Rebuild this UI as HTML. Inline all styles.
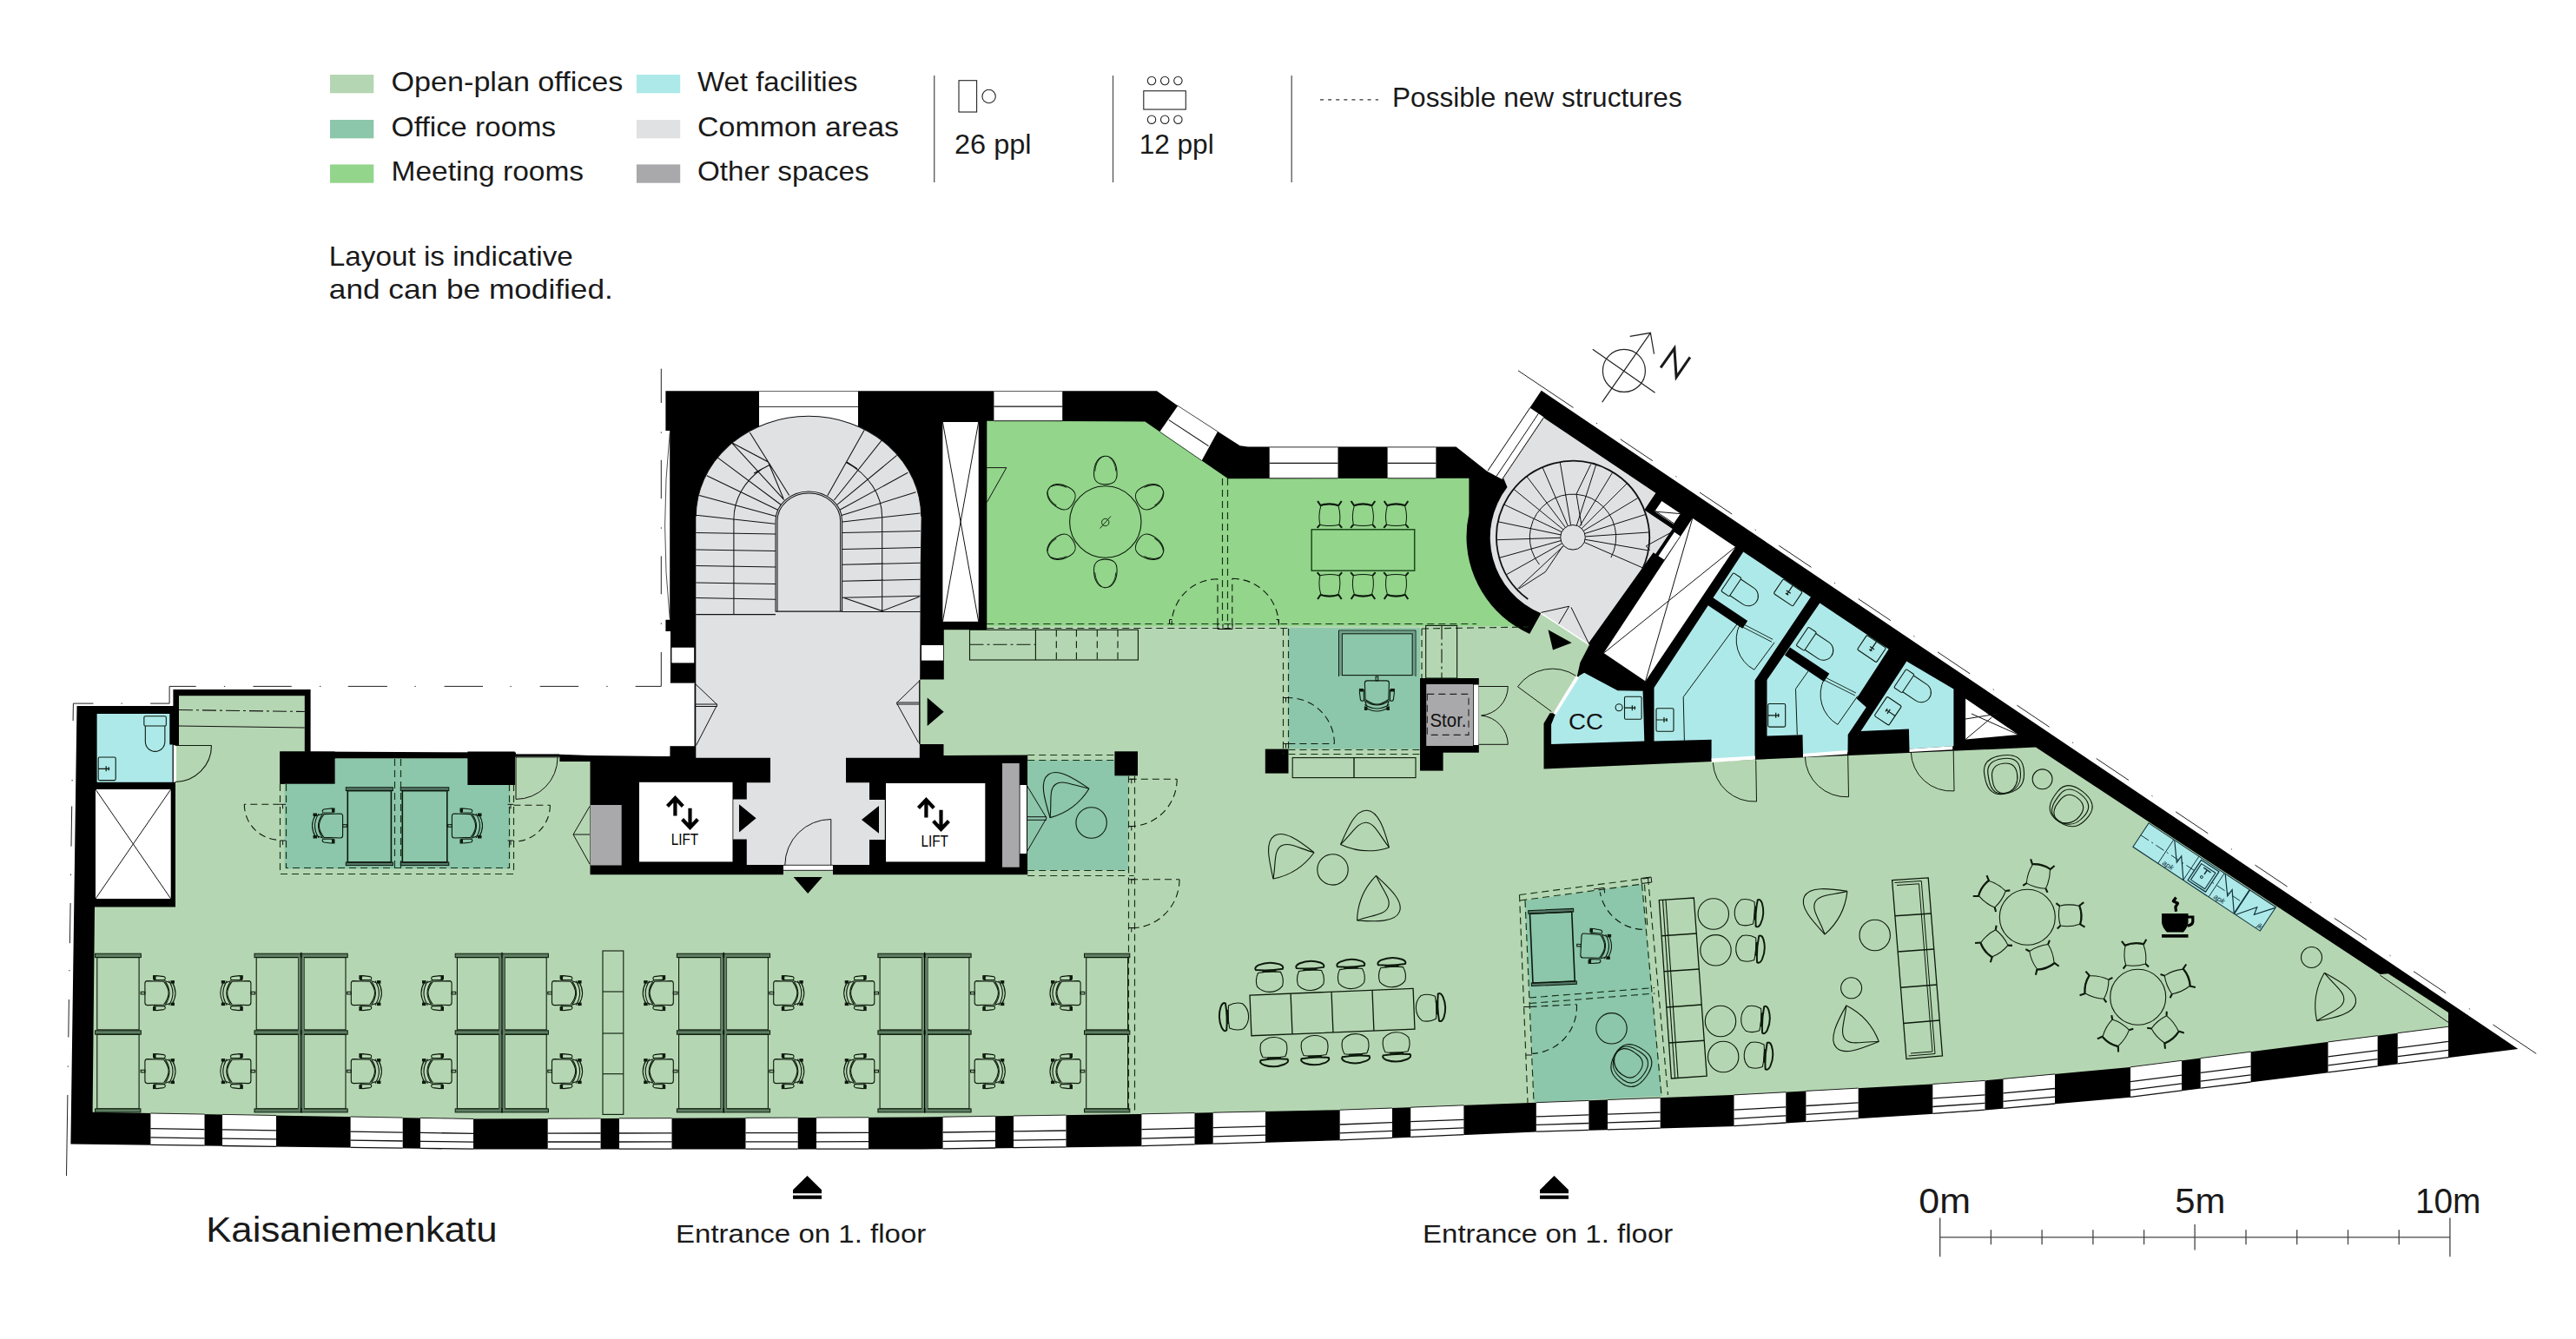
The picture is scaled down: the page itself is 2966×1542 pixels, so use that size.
<!DOCTYPE html>
<html><head><meta charset="utf-8"><style>
html,body{margin:0;padding:0;background:#fff}
body{width:2966px;height:1542px;overflow:hidden;font-family:"Liberation Sans",sans-serif}
svg{display:block}
text{font-family:"Liberation Sans",sans-serif;fill:#1a1a1a}
</style></head><body>
<svg width="2966" height="1542" viewBox="0 0 2966 1542">
<rect width="2966" height="1542" fill="#fff"/>
<polygon points="88.5,813.0 199.4,813.0 199.4,794.0 357.6,794.0 357.6,865.5 594.0,866.5 594.0,868.7 644.4,868.7 679.0,870.0 771.4,871.0 772.0,764.0 772.0,727.0 766.4,727.0 766.4,713.8 771.2,713.8 771.2,496.0 766.4,496.0 766.4,450.2 1332.0,450.2 1355.7,467.0 1427.7,513.3 1437.0,514.6 1676.5,514.6 1712.3,542.8 1774.7,449.8 2899.3,1208.0 2452.6,1263.7 2266.0,1280.2 2000.0,1296.9 1768.6,1303.5 1543.5,1313.2 1310.6,1320.2 1060.0,1323.5 545.0,1323.5 81.4,1317.6" fill="#000" />
<path d="M109.0,1044.6 L202.0,1044.6 L202.0,901.0 L206.0,901.0 L206.0,801.3 L350.8,801.3 L350.8,865.5 L322.3,865.5 L322.3,902.7 L385.6,902.7 L385.6,873.6 L538.4,873.6 L538.4,904.0 L592.8,904.0 L592.8,871.5 L644.4,871.5 L644.4,877.0 L679.5,877.0 L679.5,1007.3 L902.0,1007.3 L902.0,1002.5 L959.0,1002.5 L959.0,1007.3 L1183.2,1007.3 L1183.2,869.6 L1086.5,869.9 L1086.5,857.0 L1059.5,857.0 L1059.5,782.4 L1086.8,782.4 L1086.8,725.3 L1136.3,725.3 L1136.3,720.0 L1744.7,721 A122.5,122.5 0 0 0 1761.2,729.9 L1774.3,706.3 L1830,742.6 L1819.4,763.1 L1816,778.2 L1788,821.3 L1784.5,821.3 L1777.5,833 L1777.5,885.4 L2344,860.6 L2740.3,1122 L2749.8,1121.2 L2819,1166 L2819.0,1182.3 L2452.6,1228.9 L2266.0,1246.2 L2000.0,1260.8 L1768.6,1269.7 L1543.5,1278.2 L1310.6,1282.9 L1060.0,1286.6 L545.0,1288.5 L106.6,1280.8 Z" fill="#b5d6b2"/>
<path d="M1136.3,484.7 L1318.4,485.6 L1414,551.3 L1691.4,550.8 L1691.4,591.5 A122.5,122.5 0 0 0 1744.7,721 L1136.3,721 Z" fill="#93d58b"/>
<rect x="327.7" y="873.6" width="259.6" height="126.9" fill="#8cc6ab" />
<rect x="1183.2" y="875.5" width="115.6" height="126.5" fill="#8cc6ab" />
<rect x="1483.5" y="723.2" width="151.5" height="139.4" fill="#8cc6ab" />
<polygon points="1756.0,1037.0 1890.5,1018.0 1913.6,1262.3 1766.5,1269.5" fill="#8cc6ab" />
<rect x="874.0" y="450.2" width="114.0" height="69.8" fill="#fff" />
<path d="M801.3,872.8 L801.3,594.8 A129.7,115.5 0 0 1 1060.7,594.8 L1059.8,650 L1058.8,872.8 L974,872.8 L974,901.3 L1001,901.3 L1001,921 L1018.8,921 L1018.8,967 L1001,967 L1001,996 L959,996 L902,996 L859.8,996 L859.8,966.6 L844.3,966.6 L844.3,920.4 L859.8,920.4 L859.8,901.3 L887,901.3 L887,872.8 Z" fill="#e0e1e3"/>
<path d="M1777.7,481.3 L1906.4,567.7 L1893.3,587.2 L1925.7,608.9 L1906.2,638.0 L1903.7,636.3 L1828.5,741.5 L1774.3,706.3 A94.5,94.5 0 0 1 1735.5,561.1 L1731.1,550.6 Z" fill="#e0e1e3"/>
<polygon points="1761.4,469.6 1778.0,480.7 1730.0,552.3 1712.3,542.8" fill="#fff" />
<rect x="110.0" y="909.0" width="86.7" height="126.0" fill="#fff" />
<rect x="736.0" y="900.8" width="107.5" height="91.6" fill="#fff" />
<rect x="1020.0" y="902.0" width="114.3" height="90.4" fill="#fff" />
<rect x="1085.4" y="486.0" width="41.3" height="229.8" fill="#fff" />
<rect x="773.4" y="745.7" width="25.8" height="17.7" fill="#fff" />
<rect x="1061.0" y="743.0" width="25.0" height="17.6" fill="#fff" />
<rect x="902.0" y="996.0" width="57.0" height="6.5" fill="#fff" />
<rect x="1174.5" y="904.0" width="7.5" height="79.0" fill="#fff" />
<rect x="1696.8" y="788.5" width="5.7" height="69.5" fill="#fff" />
<polygon points="1948.8,596.7 1998.3,629.9 1894.6,784.4 1846.5,752.1" fill="#fff" />
<polygon points="1913.3,577.1 1934.9,591.6 1926.8,603.6 1905.2,589.1" fill="#fff" />
<polygon points="1927.9,612.8 1934.5,617.2 1916.1,644.6 1909.5,640.2" fill="#fff" />
<polygon points="2263.1,804.5 2263.1,851.5 2323.8,846.0" fill="#fff" />
<rect x="768.5" y="786.6" width="31.5" height="72.6" fill="#fff" />
<rect x="680.0" y="927.0" width="35.7" height="69.5" fill="#a9a9ab" />
<rect x="1154.0" y="879.0" width="19.7" height="119.7" fill="#a9a9ab" />
<rect x="111.6" y="822.0" width="87.0" height="78.8" fill="#aee9ea" />
<rect x="195.3" y="813.0" width="4.2" height="44.5" fill="#000" />
<rect x="199.4" y="858.0" width="3.6" height="42.8" fill="#fff" />
<rect x="203.0" y="858.0" width="3.5" height="43.5" fill="#b5d6b2" />
<polygon points="1790.3,823.7 1818.2,778.2 1824.1,774.7 1862.5,795.2 1891.6,795.7 1893.3,853.5 1786.1,857.0 1786.1,834.2" fill="#aee9ea" />
<polygon points="2007.3,635.4 2084.9,687.4 2020.5,783.4 2020.5,790.0 2020.5,872.5 1970.6,875.5 1970.6,851.8 1904.5,853.5 1904.5,792.0" fill="#aee9ea" />
<polygon points="1971.9,688.1 2012.2,715.1 2006.3,723.8 1966.0,696.8" fill="#000" />
<polygon points="2095.3,694.4 2174.6,747.6 2137.6,804.6 2148.8,814.5 2127.7,846.0 2127.5,866.5 2076.0,870.0 2075.5,846.2 2034.5,847.5 2034.5,783.0" fill="#aee9ea" />
<polygon points="2061.0,745.5 2106.3,775.8 2100.1,785.0 2054.9,754.6" fill="#000" />
<polygon points="2195.3,761.6 2249.4,793.4 2249.4,859.3 2198.5,862.4 2197.9,839.4 2142.6,841.9" fill="#aee9ea" />
<polygon points="1970.6,873.5 2020.9,870.4 2020.9,874.8 1970.6,877.9" fill="#fff" />
<polygon points="2076.0,868.0 2127.0,864.0 2127.0,868.6 2076.0,872.0" fill="#fff" />
<polygon points="2198.5,862.4 2248.2,859.3 2248.2,863.2 2198.5,866.0" fill="#fff" />
<polygon points="1814.8,778.2 1818.2,780.0 1791.3,823.2 1788.0,821.3" fill="#fff" />
<polygon points="2474.0,947.9 2620.4,1044.7 2602.3,1072.1 2455.9,975.3" fill="#aee9ea" stroke="#12343b" stroke-width="1.1"/>
<rect x="1283.4" y="865.3" width="26.6" height="28.0" fill="#000" />
<rect x="1456.8" y="862.6" width="26.7" height="28.0" fill="#000" />
<rect x="1635.0" y="781.0" width="67.8" height="85.7" fill="#000" />
<rect x="1635.0" y="860.0" width="26.6" height="27.6" fill="#000" />
<rect x="1642.2" y="787.9" width="53.8" height="71.1" fill="#a9a9ab" />
<rect x="1696.8" y="788.5" width="5.7" height="69.5" fill="#fff" />
<rect x="874.0" y="450.2" width="114.0" height="18.2" fill="#fff" />
<rect x="1144.4" y="450.2" width="78.8" height="34.5" fill="#fff" />
<rect x="1461.7" y="514.6" width="78.8" height="36.2" fill="#fff" />
<rect x="1597.6" y="514.6" width="55.8" height="36.2" fill="#fff" />
<polygon points="1356.2,467.2 1402.0,497.0 1383.6,530.4 1335.3,497.2" fill="#fff" />
<polygon points="173.4,1282.0 235.5,1283.1 235.5,1320.1 173.4,1319.3" fill="#fff" />
<polygon points="256.0,1283.4 318.0,1284.5 318.0,1321.1 256.0,1320.3" fill="#fff" />
<polygon points="403.6,1286.0 463.7,1287.1 463.7,1323.0 403.6,1322.2" fill="#fff" />
<polygon points="484.0,1287.4 545.0,1288.5 545.0,1324.0 484.0,1323.2" fill="#fff" />
<polygon points="630.7,1288.2 691.6,1288.0 691.6,1324.0 630.7,1324.0" fill="#fff" />
<polygon points="713.0,1287.9 773.5,1287.7 773.5,1324.0 713.0,1324.0" fill="#fff" />
<polygon points="858.5,1287.3 918.7,1287.1 918.7,1324.0 858.5,1324.0" fill="#fff" />
<polygon points="940.0,1287.0 1000.0,1286.8 1000.0,1324.0 940.0,1324.0" fill="#fff" />
<polygon points="1085.6,1286.2 1146.0,1285.3 1146.0,1322.9 1085.6,1323.7" fill="#fff" />
<polygon points="1167.0,1285.0 1227.5,1284.1 1227.5,1321.8 1167.0,1322.6" fill="#fff" />
<polygon points="1314.4,1282.8 1375.5,1281.6 1375.5,1318.7 1314.4,1320.6" fill="#fff" />
<polygon points="1396.7,1281.2 1457.0,1279.9 1457.0,1316.3 1396.7,1318.1" fill="#fff" />
<polygon points="1542.7,1278.2 1603.0,1276.0 1603.0,1311.1 1542.7,1313.7" fill="#fff" />
<polygon points="1624.2,1275.2 1685.4,1272.8 1685.4,1307.6 1624.2,1310.2" fill="#fff" />
<polygon points="1768.8,1269.7 1829.4,1267.4 1829.4,1302.3 1768.8,1304.0" fill="#fff" />
<polygon points="1851.0,1266.5 1911.7,1264.2 1911.7,1299.9 1851.0,1301.6" fill="#fff" />
<polygon points="1996.5,1260.9 2056.3,1257.7 2056.3,1293.9 1996.5,1297.5" fill="#fff" />
<polygon points="2079.4,1256.4 2139.7,1253.1 2139.7,1288.6 2079.4,1292.4" fill="#fff" />
<polygon points="2225.3,1248.4 2285.5,1244.4 2285.5,1279.0 2225.3,1283.3" fill="#fff" />
<polygon points="2306.5,1242.4 2366.0,1236.9 2366.0,1271.9 2306.5,1277.1" fill="#fff" />
<polygon points="2453.0,1228.8 2512.0,1221.3 2512.0,1256.8 2453.0,1264.2" fill="#fff" />
<polygon points="2533.7,1218.6 2591.6,1211.2 2591.6,1246.9 2533.7,1254.1" fill="#fff" />
<polygon points="2680.5,1199.9 2737.6,1192.7 2737.6,1228.7 2680.5,1235.8" fill="#fff" />
<polygon points="2760.7,1189.7 2819.0,1182.3 2819.0,1218.5 2760.7,1225.8" fill="#fff" />
<defs>
<g id="ch" stroke="#0c1a0c" stroke-width="1.1" fill="none"><path d="M-11,-14 Q-13.6,-14 -13.6,-11 L-13.6,11 Q-13.6,14 -11,14 L8,13.4 Q13.6,6 13.6,0 Q13.6,-6 8,-13.4 Z"/><path d="M10,-13 Q19,0 10,13 M14,-14 Q23,0 14,14 M17.5,-13 Q25.5,0 17.5,13"/><path d="M-3,-15.2 Q-4,-20 0,-20 L8,-19 Q11,-18 9,-15 Z M-3,15.2 Q-4,20 0,20 L8,19 Q11,18 9,15 Z"/><path d="M9,-14 L15,-12 M9,14 L15,12"/><rect x="-18.3" y="-1.3" width="4.7" height="2.6"/><g fill="#0c1a0c" stroke="none"><rect x="-4.5" y="-20.5" width="3.5" height="5"/><rect x="-4.5" y="15.5" width="3.5" height="5"/><rect x="16" y="-14.5" width="4.5" height="3.5"/><rect x="16" y="11" width="4.5" height="3.5"/></g></g>
<g id="dc" stroke="#0c1a0c" stroke-width="1.1" fill="none"><path d="M-11,-12 Q0,-15.5 11,-12 Q14.5,0 12,11.5 Q0,14.5 -12,11.5 Q-14.5,0 -11,-12 Z"/><path d="M-11,-12.8 Q0,-16.5 11,-12.8" stroke-width="2"/><path d="M-11,-12 L-15,-18 M11,-12 L15,-18 M-12,11.5 L-15.5,15.5 M12,11.5 L15.5,15.5" stroke-width="2.2"/></g>
<g id="cc" stroke="#0c1a0c" stroke-width="1.1" fill="none" stroke-width="1.3"><path d="M-13,-11 Q0,-13 13,-11 Q17,-3 14.5,5 Q9,11.5 0,11.5 Q-9,11.5 -14.5,5 Q-17,-3 -13,-11 Z"/><path d="M-15.5,-14.5 Q-17.5,-17.5 -12,-20 Q0,-24.5 12,-20 Q17.5,-17.5 15.5,-14.5 Q0,-12.5 -15.5,-14.5 Z" stroke-width="2"/><path d="M-8,-12.3 L8,-12.3" stroke-width="2"/></g>
<g id="lo" stroke="#0c1a0c" stroke-width="1.1" fill="none"><path d="M-28,0 C-20,-22 -13,-41 0,-41 C13,-41 21,-21 28,0"/><path d="M-28,0 C-15,-14 -10,-27 0,-27 C10,-27 16,-13 28,0"/><path d="M-28,0 Q0,11 28,0"/></g>
<g id="ar" stroke="#0c1a0c" stroke-width="1.1" fill="none"><g transform="scale(1.04,0.95)"><path d="M-22,-5 C-22,-19 -13,-24 0,-24 C13,-24 22,-19 22,-5 C22,8 19,18 6,21.5 C-1,23.5 -9,23 -13,20.5 C-20,16 -22,8 -22,-5 Z"/><path d="M-18,-4 C-18,-16 -11,-20 0,-20 C11,-20 18,-16 18,-4 C18,8 15,17 4,21 C-2,23 -8,22 -12,19.5 C-17,15 -18,8 -18,-4 Z"/><path d="M-14,1 C-14,-10 -8,-14 0,-14 C8,-14 14,-10 14,1 C14,10 11,17 3,21 C-3,23 -8,21 -10.5,18 C-14,13 -14,9 -14,1 Z"/></g></g>
<g id="mc" stroke="#0c1a0c" stroke-width="1.1" fill="none"><path d="M0,-16.3 C8,-16.3 13.3,-8 13.3,4 C13.3,12 10,16.3 0,16.3 C-10,16.3 -13.3,12 -13.3,4 C-13.3,-8 -8,-16.3 0,-16.3 Z"/><path d="M-4,-15.2 C-9,-12 -11.5,-6 -12,1 M4,-15.2 C9,-12 11.5,-6 12,1" stroke-width="0.9"/></g>
<g id="wc" stroke="#0c1a0c" stroke-width="1.1" fill="none"><rect x="0" y="-13" width="11.5" height="26" rx="1.5"/><path d="M11.5,-11.5 L30,-11.5 A11.5,11.5 0 0 1 30,11.5 L11.5,11.5"/></g>
<g id="sk" stroke="#0c1a0c" stroke-width="1.1" fill="none"><rect x="-10" y="-13.3" width="20" height="26.6" rx="1.5"/><path d="M-10,0 L3,0 M-1,-3 L-1,3 M2,-2 L2,2" stroke-width="1.2"/></g>
</defs>
<line x1="173.4" y1="1282.0" x2="235.5" y2="1283.1" stroke="#111" stroke-width="0.9"/>
<line x1="173.4" y1="1299.6" x2="235.5" y2="1300.6" stroke="#111" stroke-width="1.3"/>
<line x1="173.4" y1="1309.9" x2="235.5" y2="1310.8" stroke="#111" stroke-width="1.3"/>
<line x1="173.4" y1="1318.4" x2="235.5" y2="1319.2" stroke="#111" stroke-width="1.3"/>
<line x1="256.0" y1="1283.4" x2="318.0" y2="1284.5" stroke="#111" stroke-width="0.9"/>
<line x1="256.0" y1="1300.9" x2="318.0" y2="1301.8" stroke="#111" stroke-width="1.3"/>
<line x1="256.0" y1="1311.1" x2="318.0" y2="1311.9" stroke="#111" stroke-width="1.3"/>
<line x1="256.0" y1="1319.5" x2="318.0" y2="1320.3" stroke="#111" stroke-width="1.3"/>
<line x1="403.6" y1="1286.0" x2="463.7" y2="1287.1" stroke="#111" stroke-width="0.9"/>
<line x1="403.6" y1="1303.1" x2="463.7" y2="1304.1" stroke="#111" stroke-width="1.3"/>
<line x1="403.6" y1="1313.1" x2="463.7" y2="1314.0" stroke="#111" stroke-width="1.3"/>
<line x1="403.6" y1="1321.3" x2="463.7" y2="1322.1" stroke="#111" stroke-width="1.3"/>
<line x1="484.0" y1="1287.4" x2="545.0" y2="1288.5" stroke="#111" stroke-width="0.9"/>
<line x1="484.0" y1="1304.4" x2="545.0" y2="1305.3" stroke="#111" stroke-width="1.3"/>
<line x1="484.0" y1="1314.3" x2="545.0" y2="1315.1" stroke="#111" stroke-width="1.3"/>
<line x1="484.0" y1="1322.4" x2="545.0" y2="1323.2" stroke="#111" stroke-width="1.3"/>
<line x1="630.7" y1="1288.2" x2="691.6" y2="1288.0" stroke="#111" stroke-width="0.9"/>
<line x1="630.7" y1="1305.1" x2="691.6" y2="1305.0" stroke="#111" stroke-width="1.3"/>
<line x1="630.7" y1="1315.0" x2="691.6" y2="1315.0" stroke="#111" stroke-width="1.3"/>
<line x1="630.7" y1="1323.1" x2="691.6" y2="1323.1" stroke="#111" stroke-width="1.3"/>
<line x1="713.0" y1="1287.9" x2="773.5" y2="1287.7" stroke="#111" stroke-width="0.9"/>
<line x1="713.0" y1="1305.0" x2="773.5" y2="1304.9" stroke="#111" stroke-width="1.3"/>
<line x1="713.0" y1="1315.0" x2="773.5" y2="1314.9" stroke="#111" stroke-width="1.3"/>
<line x1="713.0" y1="1323.1" x2="773.5" y2="1323.1" stroke="#111" stroke-width="1.3"/>
<line x1="858.5" y1="1287.3" x2="918.7" y2="1287.1" stroke="#111" stroke-width="0.9"/>
<line x1="858.5" y1="1304.7" x2="918.7" y2="1304.6" stroke="#111" stroke-width="1.3"/>
<line x1="858.5" y1="1314.8" x2="918.7" y2="1314.8" stroke="#111" stroke-width="1.3"/>
<line x1="858.5" y1="1323.1" x2="918.7" y2="1323.1" stroke="#111" stroke-width="1.3"/>
<line x1="940.0" y1="1287.0" x2="1000.0" y2="1286.8" stroke="#111" stroke-width="0.9"/>
<line x1="940.0" y1="1304.5" x2="1000.0" y2="1304.4" stroke="#111" stroke-width="1.3"/>
<line x1="940.0" y1="1314.8" x2="1000.0" y2="1314.7" stroke="#111" stroke-width="1.3"/>
<line x1="940.0" y1="1323.1" x2="1000.0" y2="1323.1" stroke="#111" stroke-width="1.3"/>
<line x1="1085.6" y1="1286.2" x2="1146.0" y2="1285.3" stroke="#111" stroke-width="0.9"/>
<line x1="1085.6" y1="1304.0" x2="1146.0" y2="1303.1" stroke="#111" stroke-width="1.3"/>
<line x1="1085.6" y1="1314.3" x2="1146.0" y2="1313.5" stroke="#111" stroke-width="1.3"/>
<line x1="1085.6" y1="1322.8" x2="1146.0" y2="1322.0" stroke="#111" stroke-width="1.3"/>
<line x1="1167.0" y1="1285.0" x2="1227.5" y2="1284.1" stroke="#111" stroke-width="0.9"/>
<line x1="1167.0" y1="1302.8" x2="1227.5" y2="1302.0" stroke="#111" stroke-width="1.3"/>
<line x1="1167.0" y1="1313.2" x2="1227.5" y2="1312.4" stroke="#111" stroke-width="1.3"/>
<line x1="1167.0" y1="1321.7" x2="1227.5" y2="1320.9" stroke="#111" stroke-width="1.3"/>
<line x1="1314.4" y1="1282.8" x2="1375.5" y2="1281.6" stroke="#111" stroke-width="0.9"/>
<line x1="1314.4" y1="1300.7" x2="1375.5" y2="1299.2" stroke="#111" stroke-width="1.3"/>
<line x1="1314.4" y1="1311.1" x2="1375.5" y2="1309.5" stroke="#111" stroke-width="1.3"/>
<line x1="1314.4" y1="1319.7" x2="1375.5" y2="1317.9" stroke="#111" stroke-width="1.3"/>
<line x1="1396.7" y1="1281.2" x2="1457.0" y2="1279.9" stroke="#111" stroke-width="0.9"/>
<line x1="1396.7" y1="1298.7" x2="1457.0" y2="1297.2" stroke="#111" stroke-width="1.3"/>
<line x1="1396.7" y1="1308.9" x2="1457.0" y2="1307.2" stroke="#111" stroke-width="1.3"/>
<line x1="1396.7" y1="1317.2" x2="1457.0" y2="1315.4" stroke="#111" stroke-width="1.3"/>
<line x1="1542.7" y1="1278.2" x2="1603.0" y2="1276.0" stroke="#111" stroke-width="0.9"/>
<line x1="1542.7" y1="1295.0" x2="1603.0" y2="1292.6" stroke="#111" stroke-width="1.3"/>
<line x1="1542.7" y1="1304.8" x2="1603.0" y2="1302.3" stroke="#111" stroke-width="1.3"/>
<line x1="1542.7" y1="1312.9" x2="1603.0" y2="1310.3" stroke="#111" stroke-width="1.3"/>
<line x1="1624.2" y1="1275.2" x2="1685.4" y2="1272.8" stroke="#111" stroke-width="0.9"/>
<line x1="1624.2" y1="1291.7" x2="1685.4" y2="1289.3" stroke="#111" stroke-width="1.3"/>
<line x1="1624.2" y1="1301.4" x2="1685.4" y2="1298.9" stroke="#111" stroke-width="1.3"/>
<line x1="1624.2" y1="1309.4" x2="1685.4" y2="1306.7" stroke="#111" stroke-width="1.3"/>
<line x1="1768.8" y1="1269.7" x2="1829.4" y2="1267.4" stroke="#111" stroke-width="0.9"/>
<line x1="1768.8" y1="1285.9" x2="1829.4" y2="1283.9" stroke="#111" stroke-width="1.3"/>
<line x1="1768.8" y1="1295.4" x2="1829.4" y2="1293.5" stroke="#111" stroke-width="1.3"/>
<line x1="1768.8" y1="1303.2" x2="1829.4" y2="1301.4" stroke="#111" stroke-width="1.3"/>
<line x1="1851.0" y1="1266.5" x2="1911.7" y2="1264.2" stroke="#111" stroke-width="0.9"/>
<line x1="1851.0" y1="1283.1" x2="1911.7" y2="1281.1" stroke="#111" stroke-width="1.3"/>
<line x1="1851.0" y1="1292.8" x2="1911.7" y2="1291.0" stroke="#111" stroke-width="1.3"/>
<line x1="1851.0" y1="1300.8" x2="1911.7" y2="1299.1" stroke="#111" stroke-width="1.3"/>
<line x1="1996.5" y1="1260.9" x2="2056.3" y2="1257.7" stroke="#111" stroke-width="0.9"/>
<line x1="1996.5" y1="1278.2" x2="2056.3" y2="1274.8" stroke="#111" stroke-width="1.3"/>
<line x1="1996.5" y1="1288.3" x2="2056.3" y2="1284.8" stroke="#111" stroke-width="1.3"/>
<line x1="1996.5" y1="1296.6" x2="2056.3" y2="1293.0" stroke="#111" stroke-width="1.3"/>
<line x1="2079.4" y1="1256.4" x2="2139.7" y2="1253.1" stroke="#111" stroke-width="0.9"/>
<line x1="2079.4" y1="1273.5" x2="2139.7" y2="1269.9" stroke="#111" stroke-width="1.3"/>
<line x1="2079.4" y1="1283.4" x2="2139.7" y2="1279.7" stroke="#111" stroke-width="1.3"/>
<line x1="2079.4" y1="1291.6" x2="2139.7" y2="1287.8" stroke="#111" stroke-width="1.3"/>
<line x1="2225.3" y1="1248.4" x2="2285.5" y2="1244.4" stroke="#111" stroke-width="0.9"/>
<line x1="2225.3" y1="1264.9" x2="2285.5" y2="1260.8" stroke="#111" stroke-width="1.3"/>
<line x1="2225.3" y1="1274.5" x2="2285.5" y2="1270.3" stroke="#111" stroke-width="1.3"/>
<line x1="2225.3" y1="1282.4" x2="2285.5" y2="1278.1" stroke="#111" stroke-width="1.3"/>
<line x1="2306.5" y1="1242.4" x2="2366.0" y2="1236.9" stroke="#111" stroke-width="0.9"/>
<line x1="2306.5" y1="1258.8" x2="2366.0" y2="1253.5" stroke="#111" stroke-width="1.3"/>
<line x1="2306.5" y1="1268.4" x2="2366.0" y2="1263.1" stroke="#111" stroke-width="1.3"/>
<line x1="2306.5" y1="1276.3" x2="2366.0" y2="1271.0" stroke="#111" stroke-width="1.3"/>
<line x1="2453.0" y1="1228.8" x2="2512.0" y2="1221.3" stroke="#111" stroke-width="0.9"/>
<line x1="2453.0" y1="1245.6" x2="2512.0" y2="1238.1" stroke="#111" stroke-width="1.3"/>
<line x1="2453.0" y1="1255.3" x2="2512.0" y2="1247.9" stroke="#111" stroke-width="1.3"/>
<line x1="2453.0" y1="1263.3" x2="2512.0" y2="1255.9" stroke="#111" stroke-width="1.3"/>
<line x1="2533.7" y1="1218.6" x2="2591.6" y2="1211.2" stroke="#111" stroke-width="0.9"/>
<line x1="2533.7" y1="1235.4" x2="2591.6" y2="1228.1" stroke="#111" stroke-width="1.3"/>
<line x1="2533.7" y1="1245.2" x2="2591.6" y2="1237.9" stroke="#111" stroke-width="1.3"/>
<line x1="2533.7" y1="1253.2" x2="2591.6" y2="1246.0" stroke="#111" stroke-width="1.3"/>
<line x1="2680.5" y1="1199.9" x2="2737.6" y2="1192.7" stroke="#111" stroke-width="0.9"/>
<line x1="2680.5" y1="1216.9" x2="2737.6" y2="1209.7" stroke="#111" stroke-width="1.3"/>
<line x1="2680.5" y1="1226.8" x2="2737.6" y2="1219.6" stroke="#111" stroke-width="1.3"/>
<line x1="2680.5" y1="1234.9" x2="2737.6" y2="1227.8" stroke="#111" stroke-width="1.3"/>
<line x1="2760.7" y1="1189.7" x2="2819.0" y2="1182.3" stroke="#111" stroke-width="0.9"/>
<line x1="2760.7" y1="1206.8" x2="2819.0" y2="1199.4" stroke="#111" stroke-width="1.3"/>
<line x1="2760.7" y1="1216.7" x2="2819.0" y2="1209.4" stroke="#111" stroke-width="1.3"/>
<line x1="2760.7" y1="1224.9" x2="2819.0" y2="1217.7" stroke="#111" stroke-width="1.3"/>
<line x1="874.0" y1="450.6" x2="988.0" y2="450.6" stroke="#333" stroke-width="0.8"/>
<line x1="874.0" y1="468.4" x2="988.0" y2="468.4" stroke="#111" stroke-width="0.9"/>
<line x1="1144.4" y1="450.6" x2="1223.2" y2="450.6" stroke="#333" stroke-width="0.8"/>
<line x1="1144.4" y1="468.1" x2="1223.2" y2="468.1" stroke="#111" stroke-width="1.1"/>
<line x1="1144.4" y1="484.7" x2="1223.2" y2="484.7" stroke="#111" stroke-width="0.9"/>
<line x1="1461.7" y1="515.0" x2="1540.5" y2="515.0" stroke="#333" stroke-width="0.8"/>
<line x1="1461.7" y1="533.4" x2="1540.5" y2="533.4" stroke="#111" stroke-width="1.1"/>
<line x1="1461.7" y1="550.8" x2="1540.5" y2="550.8" stroke="#111" stroke-width="0.9"/>
<line x1="1597.6" y1="515.0" x2="1653.4" y2="515.0" stroke="#333" stroke-width="0.8"/>
<line x1="1597.6" y1="533.4" x2="1653.4" y2="533.4" stroke="#111" stroke-width="1.1"/>
<line x1="1597.6" y1="550.8" x2="1653.4" y2="550.8" stroke="#111" stroke-width="0.9"/>
<line x1="1355.7" y1="467.0" x2="1402.0" y2="497.0" stroke="#333" stroke-width="0.8"/>
<line x1="1345.8" y1="483.6" x2="1391.5" y2="513.6" stroke="#111" stroke-width="1.1"/>
<line x1="1335.3" y1="497.2" x2="1383.6" y2="530.4" stroke="#1a3a1a" stroke-width="0.9"/>
<line x1="1761.7" y1="469.7" x2="1713.1" y2="542.1" stroke="#111" stroke-width="1"/>
<line x1="1771.4" y1="476.2" x2="1722.8" y2="548.7" stroke="#111" stroke-width="1"/>
<line x1="1777.6" y1="480.4" x2="1729.0" y2="552.8" stroke="#111" stroke-width="1"/>
<line x1="110.0" y1="909.0" x2="196.7" y2="1035.0" stroke="#111" stroke-width="1"/>
<line x1="196.7" y1="909.0" x2="110.0" y2="1035.0" stroke="#111" stroke-width="1"/>
<line x1="1085.4" y1="486.0" x2="1126.7" y2="715.8" stroke="#111" stroke-width="1"/>
<line x1="1126.7" y1="486.0" x2="1085.4" y2="715.8" stroke="#111" stroke-width="1"/>
<line x1="1948.8" y1="596.7" x2="1894.6" y2="784.4" stroke="#111" stroke-width="1"/>
<line x1="1998.3" y1="629.9" x2="1846.5" y2="752.1" stroke="#111" stroke-width="1"/>
<line x1="1905.2" y1="589.1" x2="1934.9" y2="591.6" stroke="#111" stroke-width="1"/>
<line x1="1905.7" y1="588.3" x2="1927.3" y2="602.8" stroke="#111" stroke-width="1"/>
<line x1="2263.1" y1="828.0" x2="2300.0" y2="822.0" stroke="#111" stroke-width="1"/>
<line x1="2263.1" y1="851.5" x2="2293.5" y2="826.0" stroke="#111" stroke-width="1"/>
<line x1="2270.0" y1="822.0" x2="2323.8" y2="846.0" stroke="#111" stroke-width="1"/>
<path d="M801.3,594.8 A129.7,115.5 0 0 1 1060.7,594.8 M893,704 L893,600 A38.3,34 0 0 1 969.6,600 L969.6,704 Z M895,704 L895,600 A36.3,32 0 0 1 967.6,600 L967.6,704 M801.3,707.6 L893,707.6 M969.6,704.5 L1059.8,704.5 M893,704.3 L969.6,704.3 M844.9,707.6 L844.9,598 A85.4,74 0 0 1 877.7,539.7 M974.3,532.6 A85.4,74 0 0 1 1015.7,596 L1015.7,703 M801.4,593.2 L892.2,603.3 M805.2,570.4 L893.3,594.5 M813.8,547.7 L895.6,587.2 M826.5,527.2 L898.8,581.0 M842.5,509.8 L902.8,575.6 M861.9,495.8 L908.7,570.5 M1059.6,590.9 L969.9,601.0 M1054.5,566.8 L969.0,593.5 M1045.3,544.3 L967.3,587.0 M1032.6,524.4 L964.3,580.8 M1015.2,507.0 L960.4,576.0 M996.0,493.8 L952.8,570.7 M801.3,613.4 L893,615.0 M801.3,632.9 L893,634.5 M801.3,651.4 L893,653.0 M801.3,671.0 L893,672.6 M801.3,688.6 L893,690.2 M969.6,613.5 L1059.8,611.5 M969.6,632.5 L1059.8,630.5 M969.6,650.2 L1059.8,648.2 M969.6,669.2 L1059.8,667.2 M969.6,688.3 L1059.8,686.3 M842.5,509.8 L884.5,532 L902,574 M886,535.5 L868,545 M974.6,531.8 L987,539.6 M971.8,688.6 L1015.7,703.6 L1058.4,687.3" stroke="#111" stroke-width="1.05" fill="none"/>
<path d="M1759.3,690.0 A88,88 0 1 1 1890.8,656.0" stroke="#111" stroke-width="1.8" fill="none"/>
<path d="M1772.4,650.1 A49.7,49.7 0 1 1 1854.9,642.1 M1800.5,628.6 L1747.0,678.5 M1798.5,625.8 L1734.7,661.6 M1797.2,622.6 L1726.7,642.3 M1796.7,619.3 L1723.5,621.7 M1797.0,615.9 L1725.3,600.9 M1798.1,612.6 L1732.0,581.1 M1799.9,609.8 L1743.2,563.5 M1802.4,607.4 L1758.2,549.0 M1805.3,605.7 L1776.2,538.5 M1808.6,604.7 L1796.3,532.6 M1815.3,605.2 L1837.6,535.4 M1818.5,606.6 L1856.6,544.1 M1821.1,608.7 L1873.0,557.0 M1823.2,611.4 L1885.8,573.5 M1824.6,614.5 L1894.5,592.5 M1825.3,617.9 L1898.3,613.0 M1825.1,621.3 L1897.2,633.8 M1824.1,624.5 L1891.2,653.8" stroke="#111" stroke-width="1" fill="none"/>
<circle cx="1811.0" cy="618.8" r="14.3" stroke="#111" stroke-width="1" fill="#e0e1e3"/>
<path d="M1831.8,534.4 L1815,569 L1821,605 M1799.5,628.8 L1779.2,658.7 L1749,678" stroke="#111" stroke-width="1" fill="none"/>
<line x1="1774.3" y1="706.3" x2="1830.0" y2="742.6" stroke="#fff" stroke-width="1.5"/>
<path d="M1774.5,705.4 L1806.7,698.2 L1794.7,718.5 M1809,699.4 L1830.6,743.6" stroke="#111" stroke-width="1" fill="none"/>
<path d="M1926.2,612 L1895.2,628.9 L1900,633.6" stroke="#111" stroke-width="1" fill="none"/>
<polygon points="1782.5,725.3 1809.7,740.3 1788.0,748.4" fill="#000" />
<path d="M800,787 L825.8,811.5 L801.5,858.5 M800,811 L825.8,811 M800,813.5 L825.8,813.5 M800,787 L800,859" stroke="#111" stroke-width="1" fill="none"/>
<path d="M1058.2,784.5 L1032.4,809.5 L1057.4,855 M1032.4,809 L1058.2,809 M1032.4,811 L1058.2,811 M1058.6,783 L1058.6,857" stroke="#111" stroke-width="1" fill="none"/>
<polygon points="1067.7,803.5 1086.7,819.7 1067.7,836.0" fill="#000" />
<polygon points="851.0,926.3 870.6,942.3 851.0,958.4" fill="#000" />
<polygon points="1012.0,928.0 992.0,944.0 1012.0,959.8" fill="#000" />
<polygon points="913.6,1010.0 946.8,1010.0 930.2,1029.0" fill="#000" />
<path d="M956.8,996 L956.8,943.5 A53,53 0 0 0 903.8,996.5" stroke="#111" stroke-width="1" fill="none"/>
<line x1="902.0" y1="996.3" x2="959.0" y2="996.3" stroke="#111" stroke-width="0.9"/>
<line x1="902.0" y1="1002.3" x2="959.0" y2="1002.3" stroke="#111" stroke-width="0.9"/>
<path d="M777.4,939.4 L777.4,920.0 M768.5,928.5 L777.4,919.0 L786.3,928.5 M794.5,930.7 L794.5,952.0 M785.6,943.5 L794.5,953.0 L803.4,943.5" stroke="#000" stroke-width="4.2" fill="none" stroke-linejoin="miter"/>
<path d="M1066.4,941.4 L1066.4,922.0 M1057.5,930.5 L1066.4,921.0 L1075.3,930.5 M1083.5,932.7 L1083.5,954.0 M1074.6,945.5 L1083.5,955.0 L1092.4,945.5" stroke="#000" stroke-width="4.2" fill="none" stroke-linejoin="miter"/>
<text x="788.4" y="973.4" font-size="19" text-anchor="middle" textLength="31.5" lengthAdjust="spacingAndGlyphs" style="fill:#000">LIFT</text>
<text x="1076.2" y="975.3" font-size="19" text-anchor="middle" textLength="31.5" lengthAdjust="spacingAndGlyphs" style="fill:#000">LIFT</text>
<path d="M679,928.5 L660,961 L679,995 M660,961 L679,961" stroke="#111" stroke-width="1" fill="none"/>
<path d="M1182,904 L1205,942 L1182,981.5 M1182,940.7 L1205,940.7 M1182,944.3 L1205,944.3" stroke="#111" stroke-width="1" fill="none"/>
<use href="#wc" transform="translate(178.6,824.7) rotate(90.0) scale(0.980)"/>
<use href="#sk" transform="translate(123.2,885.3)"/>
<path d="M201.5,858.5 L243.5,858.5 M243.5,858.5 A42.0,42.0 0 0 1 201.5,900.5" stroke="#0c1a0c" stroke-width="1.1" fill="none" />
<line x1="199.4" y1="858.0" x2="199.4" y2="900.8" stroke="#111" stroke-width="0.8"/>
<line x1="206.0" y1="836.0" x2="350.8" y2="838.0" stroke="#111" stroke-width="1"/>
<line x1="206.0" y1="817.5" x2="350.8" y2="819.5" stroke="#111" stroke-width="1.1" stroke-dasharray="16 4 3 4"/>
<path d="M594,868.7 L594,920.4 M594,920.4 A48,48 0 0 0 642,872" stroke="#111" stroke-width="1" fill="none"/>
<line x1="594.0" y1="868.9" x2="644.0" y2="868.9" stroke="#111" stroke-width="0.8"/>
<line x1="594.0" y1="872.0" x2="644.0" y2="872.0" stroke="#111" stroke-width="0.8"/>
<path d="M322.5,903 L322.5,1006.5 L591.5,1006.5 L591.5,904 M329.5,903 L329.5,999.5 L586.5,999.5 L586.5,904 M454.5,874 L454.5,999 M461.5,874 L461.5,999" stroke="#143214" stroke-width="1.15" fill="none" stroke-dasharray="8 5"/>
<path d="M322.3,926.3 L281.3,926.3 M281.3,926.3 A41.0,41.0 0 0 0 322.3,967.3" stroke="#0c1a0c" stroke-width="1.1" fill="none" stroke-dasharray="8 5"/>
<path d="M591.4,927.2 L633.4,927.2 M633.4,927.2 A42.0,42.0 0 0 1 591.4,969.2" stroke="#0c1a0c" stroke-width="1.1" fill="none" stroke-dasharray="8 5"/>
<path d="M322.3,926.3 l6.7,0 M325.6,926.3 l0,5" stroke="#111" stroke-width="1" fill="none"/>
<path d="M584.6,926.3 l6.8,0 M588,926.3 l0,5" stroke="#111" stroke-width="1" fill="none"/>
<path d="M322.3,968.0 l6.7,0 M325.6,968.0 l0,5" stroke="#111" stroke-width="1" fill="none"/>
<path d="M584.6,968.0 l6.8,0 M588,968.0 l0,5" stroke="#111" stroke-width="1" fill="none"/>
<rect x="398.3" y="906.8" width="54.1" height="3.8" fill="#55786a" stroke="#0c1a0c" stroke-width="1"/>
<rect x="398.3" y="993.0" width="54.1" height="3.6" fill="#55786a" stroke="#0c1a0c" stroke-width="1"/>
<rect x="400.3" y="910.6" width="50.1" height="82.4" fill="none" stroke="#0c1a0c" stroke-width="1.6"/>
<rect x="461.3" y="906.8" width="55.5" height="3.8" fill="#55786a" stroke="#0c1a0c" stroke-width="1"/>
<rect x="461.3" y="993.0" width="55.5" height="3.6" fill="#55786a" stroke="#0c1a0c" stroke-width="1"/>
<rect x="463.3" y="910.6" width="51.5" height="82.4" fill="none" stroke="#0c1a0c" stroke-width="1.6"/>
<use href="#ch" transform="translate(381.0,951.0) rotate(180.0)"/>
<use href="#ch" transform="translate(534.0,951.0)"/>
<rect x="322.3" y="865.5" width="63.3" height="37.2" fill="#000" />
<rect x="538.4" y="865.5" width="54.4" height="38.5" fill="#000" />
<rect x="109.6" y="1098.2" width="52.7" height="4.4" fill="#5e7f62" stroke="#0c1a0c" stroke-width="1"/>
<rect x="111.8" y="1102.6" width="48.3" height="83.3" fill="none" stroke="#0c1a0c" stroke-width="1.1"/>
<rect x="109.6" y="1186.8" width="52.7" height="4.4" fill="#5e7f62" stroke="#0c1a0c" stroke-width="1"/>
<rect x="111.8" y="1191.2" width="48.3" height="85.7" fill="none" stroke="#0c1a0c" stroke-width="1.1"/>
<rect x="109.6" y="1276.9" width="52.3" height="4.0" fill="#5e7f62" stroke="#0c1a0c" stroke-width="1"/>
<rect x="293.0" y="1098.2" width="52.7" height="4.4" fill="#5e7f62" stroke="#0c1a0c" stroke-width="1"/>
<rect x="295.2" y="1102.6" width="48.3" height="83.3" fill="none" stroke="#0c1a0c" stroke-width="1.1"/>
<rect x="347.9" y="1098.2" width="52.3" height="4.4" fill="#5e7f62" stroke="#0c1a0c" stroke-width="1"/>
<rect x="350.1" y="1102.6" width="47.9" height="83.3" fill="none" stroke="#0c1a0c" stroke-width="1.1"/>
<rect x="293.0" y="1186.8" width="52.7" height="4.4" fill="#5e7f62" stroke="#0c1a0c" stroke-width="1"/>
<rect x="295.2" y="1191.2" width="48.3" height="85.7" fill="none" stroke="#0c1a0c" stroke-width="1.1"/>
<rect x="347.9" y="1186.8" width="52.3" height="4.4" fill="#5e7f62" stroke="#0c1a0c" stroke-width="1"/>
<rect x="350.1" y="1191.2" width="47.9" height="85.7" fill="none" stroke="#0c1a0c" stroke-width="1.1"/>
<rect x="293.0" y="1276.9" width="107.2" height="4.0" fill="#5e7f62" stroke="#0c1a0c" stroke-width="1"/>
<rect x="343.5" y="1099.2" width="2.3" height="180.2" fill="#5e7f62" stroke="none"/>
<rect x="347.8" y="1099.2" width="2.3" height="180.2" fill="#5e7f62" stroke="none"/>
<line x1="346.8" y1="1096.7" x2="346.8" y2="1281.4" stroke="#000" stroke-width="1.4"/>
<rect x="524.2" y="1098.2" width="52.7" height="4.4" fill="#5e7f62" stroke="#0c1a0c" stroke-width="1"/>
<rect x="526.4" y="1102.6" width="48.3" height="83.3" fill="none" stroke="#0c1a0c" stroke-width="1.1"/>
<rect x="579.1" y="1098.2" width="52.3" height="4.4" fill="#5e7f62" stroke="#0c1a0c" stroke-width="1"/>
<rect x="581.3" y="1102.6" width="47.9" height="83.3" fill="none" stroke="#0c1a0c" stroke-width="1.1"/>
<rect x="524.2" y="1186.8" width="52.7" height="4.4" fill="#5e7f62" stroke="#0c1a0c" stroke-width="1"/>
<rect x="526.4" y="1191.2" width="48.3" height="85.7" fill="none" stroke="#0c1a0c" stroke-width="1.1"/>
<rect x="579.1" y="1186.8" width="52.3" height="4.4" fill="#5e7f62" stroke="#0c1a0c" stroke-width="1"/>
<rect x="581.3" y="1191.2" width="47.9" height="85.7" fill="none" stroke="#0c1a0c" stroke-width="1.1"/>
<rect x="524.2" y="1276.9" width="107.2" height="4.0" fill="#5e7f62" stroke="#0c1a0c" stroke-width="1"/>
<rect x="574.7" y="1099.2" width="2.3" height="180.2" fill="#5e7f62" stroke="none"/>
<rect x="579.0" y="1099.2" width="2.3" height="180.2" fill="#5e7f62" stroke="none"/>
<line x1="578.0" y1="1096.7" x2="578.0" y2="1281.4" stroke="#000" stroke-width="1.4"/>
<rect x="779.4" y="1098.2" width="52.7" height="4.4" fill="#5e7f62" stroke="#0c1a0c" stroke-width="1"/>
<rect x="781.6" y="1102.6" width="48.3" height="83.3" fill="none" stroke="#0c1a0c" stroke-width="1.1"/>
<rect x="834.3" y="1098.2" width="52.3" height="4.4" fill="#5e7f62" stroke="#0c1a0c" stroke-width="1"/>
<rect x="836.5" y="1102.6" width="47.9" height="83.3" fill="none" stroke="#0c1a0c" stroke-width="1.1"/>
<rect x="779.4" y="1186.8" width="52.7" height="4.4" fill="#5e7f62" stroke="#0c1a0c" stroke-width="1"/>
<rect x="781.6" y="1191.2" width="48.3" height="85.7" fill="none" stroke="#0c1a0c" stroke-width="1.1"/>
<rect x="834.3" y="1186.8" width="52.3" height="4.4" fill="#5e7f62" stroke="#0c1a0c" stroke-width="1"/>
<rect x="836.5" y="1191.2" width="47.9" height="85.7" fill="none" stroke="#0c1a0c" stroke-width="1.1"/>
<rect x="779.4" y="1276.9" width="107.2" height="4.0" fill="#5e7f62" stroke="#0c1a0c" stroke-width="1"/>
<rect x="829.9" y="1099.2" width="2.3" height="180.2" fill="#5e7f62" stroke="none"/>
<rect x="834.2" y="1099.2" width="2.3" height="180.2" fill="#5e7f62" stroke="none"/>
<line x1="833.2" y1="1096.7" x2="833.2" y2="1281.4" stroke="#000" stroke-width="1.4"/>
<rect x="1010.9" y="1098.2" width="52.7" height="4.4" fill="#5e7f62" stroke="#0c1a0c" stroke-width="1"/>
<rect x="1013.1" y="1102.6" width="48.3" height="83.3" fill="none" stroke="#0c1a0c" stroke-width="1.1"/>
<rect x="1065.8" y="1098.2" width="52.3" height="4.4" fill="#5e7f62" stroke="#0c1a0c" stroke-width="1"/>
<rect x="1068.0" y="1102.6" width="47.9" height="83.3" fill="none" stroke="#0c1a0c" stroke-width="1.1"/>
<rect x="1010.9" y="1186.8" width="52.7" height="4.4" fill="#5e7f62" stroke="#0c1a0c" stroke-width="1"/>
<rect x="1013.1" y="1191.2" width="48.3" height="85.7" fill="none" stroke="#0c1a0c" stroke-width="1.1"/>
<rect x="1065.8" y="1186.8" width="52.3" height="4.4" fill="#5e7f62" stroke="#0c1a0c" stroke-width="1"/>
<rect x="1068.0" y="1191.2" width="47.9" height="85.7" fill="none" stroke="#0c1a0c" stroke-width="1.1"/>
<rect x="1010.9" y="1276.9" width="107.2" height="4.0" fill="#5e7f62" stroke="#0c1a0c" stroke-width="1"/>
<rect x="1061.4" y="1099.2" width="2.3" height="180.2" fill="#5e7f62" stroke="none"/>
<rect x="1065.7" y="1099.2" width="2.3" height="180.2" fill="#5e7f62" stroke="none"/>
<line x1="1064.7" y1="1096.7" x2="1064.7" y2="1281.4" stroke="#000" stroke-width="1.4"/>
<rect x="1248.5" y="1098.2" width="52.3" height="4.4" fill="#5e7f62" stroke="#0c1a0c" stroke-width="1"/>
<rect x="1250.7" y="1102.6" width="47.9" height="83.3" fill="none" stroke="#0c1a0c" stroke-width="1.1"/>
<rect x="1248.5" y="1186.8" width="52.3" height="4.4" fill="#5e7f62" stroke="#0c1a0c" stroke-width="1"/>
<rect x="1250.7" y="1191.2" width="47.9" height="85.7" fill="none" stroke="#0c1a0c" stroke-width="1.1"/>
<rect x="1248.5" y="1276.9" width="52.3" height="4.0" fill="#5e7f62" stroke="#0c1a0c" stroke-width="1"/>
<use href="#ch" transform="translate(180.5,1143.6)"/>
<use href="#ch" transform="translate(275.3,1143.6) rotate(180.0)"/>
<use href="#ch" transform="translate(417.9,1143.6)"/>
<use href="#ch" transform="translate(506.5,1143.6) rotate(180.0)"/>
<use href="#ch" transform="translate(649.1,1143.6)"/>
<use href="#ch" transform="translate(761.7,1143.6) rotate(180.0)"/>
<use href="#ch" transform="translate(904.3,1143.6)"/>
<use href="#ch" transform="translate(993.2,1143.6) rotate(180.0)"/>
<use href="#ch" transform="translate(1135.8,1143.6)"/>
<use href="#ch" transform="translate(1230.5,1143.6) rotate(180.0)"/>
<use href="#ch" transform="translate(180.5,1233.6)"/>
<use href="#ch" transform="translate(275.3,1233.6) rotate(180.0)"/>
<use href="#ch" transform="translate(417.9,1233.6)"/>
<use href="#ch" transform="translate(506.5,1233.6) rotate(180.0)"/>
<use href="#ch" transform="translate(649.1,1233.6)"/>
<use href="#ch" transform="translate(761.7,1233.6) rotate(180.0)"/>
<use href="#ch" transform="translate(904.3,1233.6)"/>
<use href="#ch" transform="translate(993.2,1233.6) rotate(180.0)"/>
<use href="#ch" transform="translate(1135.8,1233.6)"/>
<use href="#ch" transform="translate(1230.5,1233.6) rotate(180.0)"/>
<rect x="694.0" y="1095.0" width="23.8" height="188.4" fill="none" stroke="#0c1a0c" stroke-width="1.1"/>
<line x1="694.0" y1="1142.0" x2="717.8" y2="1142.0" stroke="#0c1a0c" stroke-width="1.1"/>
<line x1="694.0" y1="1190.0" x2="717.8" y2="1190.0" stroke="#0c1a0c" stroke-width="1.1"/>
<line x1="694.0" y1="1236.7" x2="717.8" y2="1236.7" stroke="#0c1a0c" stroke-width="1.1"/>
<path d="M1183.2,869.5 L1283.4,869.5 M1183.2,875.5 L1283.4,875.5 M1183.2,1002.5 L1299,1002.5 M1183.2,1008.5 L1305.6,1008.5 M1299.5,893.5 L1299.5,1281 M1306.5,893.5 L1306.5,1281" stroke="#143214" stroke-width="1.15" fill="none" stroke-dasharray="8 5"/>
<use href="#lo" transform="translate(1231.5,924.9) rotate(-36.7)"/>
<circle cx="1256.6" cy="947.5" r="17.7" stroke="#0c1a0c" stroke-width="1.1" fill="none"/>
<path d="M1300.8,897.3 L1355.2,897.3 M1355.2,897.3 A54.4,54.4 0 0 1 1300.8,951.7" stroke="#0c1a0c" stroke-width="1.1" fill="none" stroke-dasharray="8 5"/>
<path d="M1302.0,1012.8 L1358.0,1012.8 M1358.0,1012.8 A56.0,56.0 0 0 1 1302.0,1068.8" stroke="#0c1a0c" stroke-width="1.1" fill="none" stroke-dasharray="8 5"/>
<path d="M1299.4,897.3 l6.8,0 M1302.8,897.3 l0,5" stroke="#111" stroke-width="1" fill="none"/>
<path d="M1299.4,951.5 l6.8,0 M1302.8,951.5 l0,5" stroke="#111" stroke-width="1" fill="none"/>
<path d="M1299.4,1012.8 l6.8,0 M1302.8,1012.8 l0,5" stroke="#111" stroke-width="1" fill="none"/>
<path d="M1299.4,1068.5 l6.8,0 M1302.8,1068.5 l0,5" stroke="#111" stroke-width="1" fill="none"/>
<circle cx="1272.8" cy="601.0" r="41.2" stroke="#0c1a0c" stroke-width="1.1" fill="none"/>
<path d="M1268.5,601.5 a4.2,4.2 0 1 0 8.4,0 a4.2,4.2 0 1 0 -8.4,0 M1266.5,608.5 L1279,594.5" stroke="#0c1a0c" stroke-width="0.9" fill="none"/>
<use href="#mc" transform="translate(1272.8,541.6)"/>
<use href="#mc" transform="translate(1324.2,571.3) rotate(60.0)"/>
<use href="#mc" transform="translate(1324.2,630.7) rotate(120.0)"/>
<use href="#mc" transform="translate(1272.8,660.4) rotate(180.0)"/>
<use href="#mc" transform="translate(1221.4,630.7) rotate(240.0)"/>
<use href="#mc" transform="translate(1221.4,571.3) rotate(300.0)"/>
<path d="M1136.3,538.6 L1158.8,538.6 L1136.3,578.5" stroke="#111" stroke-width="1" fill="none"/>
<path d="M1407.5,551 L1407.5,718 M1413.5,551 L1413.5,718 M1136.3,718.5 L1700,718.5 M1136.3,723.5 L1483,723.5" stroke="#143214" stroke-width="1.15" fill="none" stroke-dasharray="8 5"/>
<path d="M1637,724 L1760,722" stroke="#143214" stroke-width="1.15" fill="none" stroke-dasharray="8 5"/>
<path d="M1402.0,719.8 L1402.0,666.8 M1402.0,666.8 A53.0,53.0 0 0 0 1349.0,719.8" stroke="#0c1a0c" stroke-width="1.1" fill="none" stroke-dasharray="8 5"/>
<path d="M1418.8,719.8 L1418.8,666.3 M1418.8,666.3 A53.5,53.5 0 0 1 1472.3,719.8" stroke="#0c1a0c" stroke-width="1.1" fill="none" stroke-dasharray="8 5"/>
<path d="M1402,718.5 l0,6 l17,0 l0,-6 M1408,718.5 l0,6 M1414,718.5 l0,6 M1346.5,718.5 l0,-5 l3,0 M1472.5,718.5 l0,-5 l-3,0" stroke="#111" stroke-width="1" fill="none"/>
<rect x="1510.2" y="609.8" width="118.5" height="47.4" fill="none" stroke="#1c4a1c" stroke-width="1.5"/>
<use href="#dc" transform="translate(1530.9,593.6) scale(0.920)"/>
<use href="#dc" transform="translate(1530.9,673.4) rotate(180.0) scale(0.920)"/>
<use href="#dc" transform="translate(1569.4,593.6) scale(0.920)"/>
<use href="#dc" transform="translate(1569.4,673.4) rotate(180.0) scale(0.920)"/>
<use href="#dc" transform="translate(1607.5,593.6) scale(0.920)"/>
<use href="#dc" transform="translate(1607.5,673.4) rotate(180.0) scale(0.920)"/>
<rect x="1116.5" y="725.3" width="193.9" height="34.7" fill="none" stroke="#0c1a0c" stroke-width="1.1"/>
<line x1="1192.4" y1="725.3" x2="1192.4" y2="760.0" stroke="#0c1a0c" stroke-width="1.1"/>
<line x1="1116.5" y1="742.2" x2="1192.4" y2="742.2" stroke="#0c1a0c" stroke-width="1.1" stroke-dasharray="16 4 3 4"/>
<line x1="1216.3" y1="725.3" x2="1216.3" y2="760.0" stroke="#0c1a0c" stroke-width="1.1" stroke-dasharray="8 5"/>
<line x1="1239.4" y1="725.3" x2="1239.4" y2="760.0" stroke="#0c1a0c" stroke-width="1.1" stroke-dasharray="8 5"/>
<line x1="1263.3" y1="725.3" x2="1263.3" y2="760.0" stroke="#0c1a0c" stroke-width="1.1" stroke-dasharray="8 5"/>
<line x1="1287.0" y1="725.3" x2="1287.0" y2="760.0" stroke="#0c1a0c" stroke-width="1.1" stroke-dasharray="8 5"/>
<path d="M1477.5,724 L1477.5,868.5 M1483.5,724 L1483.5,863 M1483.4,863.5 L1635,863.5 M1483.4,868.5 L1635,868.5" stroke="#143214" stroke-width="1.15" fill="none" stroke-dasharray="8 5"/>
<path d="M1483.4,856.5 L1536.4,856.5 M1536.4,856.5 A53.0,53.0 0 0 0 1483.4,803.5" stroke="#0c1a0c" stroke-width="1.1" fill="none" stroke-dasharray="8 5"/>
<path d="M1477.5,803.5 l6,0 M1480.5,803.5 l0,5" stroke="#111" stroke-width="1" fill="none"/>
<path d="M1477.5,856.5 l6,0 M1480.5,856.5 l0,5" stroke="#111" stroke-width="1" fill="none"/>
<path d="M1541.5,779 L1541.5,726 L1630,726 L1630,779" stroke="#0c1a0c" stroke-width="1" fill="none"/>
<path d="M1543.3,778 L1543.3,727.8 L1628.2,727.8 L1628.2,778" stroke="#6d9c88" stroke-width="2" fill="none"/>
<rect x="1545.3" y="729.8" width="80.9" height="47.8" fill="none" stroke="#0c1a0c" stroke-width="1.1"/>
<use href="#ch" transform="translate(1585.4,797.5) rotate(90.0)"/>
<rect x="1641.7" y="720.4" width="35.9" height="60.6" fill="none" stroke="#0c1a0c" stroke-width="1.1"/>
<line x1="1660.0" y1="720.4" x2="1660.0" y2="781.0" stroke="#0c1a0c" stroke-width="1.1" stroke-dasharray="16 4 3 4"/>
<line x1="1637.0" y1="724.0" x2="1637.0" y2="781.0" stroke="#143214" stroke-width="1.15" stroke-dasharray="8 5"/>
<rect x="1488.2" y="872.6" width="141.8" height="23.0" fill="none" stroke="#0c1a0c" stroke-width="1.1"/>
<line x1="1559.0" y1="872.6" x2="1559.0" y2="895.6" stroke="#0c1a0c" stroke-width="1.4"/>
<rect x="1643.3" y="799.4" width="47.7" height="47.0" fill="none" stroke="#222" stroke-width="1.1" stroke-dasharray="8 5"/>
<text x="1667.5" y="837" font-size="22" text-anchor="middle" textLength="42" lengthAdjust="spacingAndGlyphs" style="fill:#111">Stor.</text>
<path d="M1702.5,790.5 L1736.3,790.5 A34,34 0 0 1 1705.5,824 A34,34 0 0 1 1736.3,857.3 L1702.5,857.3" stroke="#111" stroke-width="1" fill="none"/>
<use href="#lo" transform="translate(1489.5,996.9) rotate(-32.8)"/>
<use href="#lo" transform="translate(1571.5,974.2) rotate(3.5)"/>
<use href="#lo" transform="translate(1573.5,1034.1) rotate(113.0)"/>
<circle cx="1534.5" cy="1001.4" r="17.7" stroke="#0c1a0c" stroke-width="1.1" fill="none"/>
<g transform="translate(1534,1165.6) rotate(-2.32)">
<rect x="-94.1" y="-23.4" width="188.2" height="46.8" fill="none" stroke="#0c1a0c" stroke-width="1.3" fill="none"/>
<line x1="-47.0" y1="-23.4" x2="-47.0" y2="23.4" stroke="#0c1a0c" stroke-width="1.3" fill="none"/>
<line x1="0.0" y1="-23.4" x2="0.0" y2="23.4" stroke="#0c1a0c" stroke-width="1.3" fill="none"/>
<line x1="47.0" y1="-23.4" x2="47.0" y2="23.4" stroke="#0c1a0c" stroke-width="1.3" fill="none"/>
<use href="#cc" transform="translate(-70.6,-37.6)"/>
<use href="#cc" transform="translate(-69.1,37.6) rotate(180.0)"/>
<use href="#cc" transform="translate(-23.5,-37.6)"/>
<use href="#cc" transform="translate(-22.0,37.6) rotate(180.0)"/>
<use href="#cc" transform="translate(23.5,-37.6)"/>
<use href="#cc" transform="translate(25.0,37.6) rotate(180.0)"/>
<use href="#cc" transform="translate(70.6,-37.6)"/>
<use href="#cc" transform="translate(72.1,37.6) rotate(180.0)"/>
<use href="#cc" transform="translate(-108.0,0.5) rotate(-90.0)"/>
<use href="#cc" transform="translate(108.0,-0.5) rotate(90.0)"/>
</g>
<path d="M1749.5,1030.5 L1901.5,1010.6 M1750.3,1037 L1890,1018.2 M1749.5,1030.5 L1759,1270 M1756,1037 L1766,1269.5 M1890.5,1018 L1913,1262 M1897.5,1011 L1920.5,1261 M1761,1149 L1905,1137.5 M1761.3,1155.5 L1905.5,1144" stroke="#143214" stroke-width="1.15" fill="none" stroke-dasharray="8 5"/>
<g transform="translate(1787,1091) rotate(-2.5)">
<rect x="-25.5" y="-43.5" width="52.0" height="3.7" fill="#55786a" stroke="#0c1a0c" stroke-width="1"/>
<rect x="-25.5" y="40.0" width="52.0" height="3.5" fill="#55786a" stroke="#0c1a0c" stroke-width="1"/>
<rect x="-23.8" y="-39.8" width="48.3" height="79.8" fill="none" stroke="#0c1a0c" stroke-width="1.6"/>
</g>
<use href="#ch" transform="translate(1834.0,1089.5) rotate(3.0)"/>
<path d="M1890.8,1070.4 A52.0,52.0 0 0 1 1842.3,1027.5" stroke="#0c1a0c" stroke-width="1.1" fill="none" stroke-dasharray="8 5"/>
<line x1="1893.5" y1="1018.5" x2="1897.0" y2="1070.0" stroke="#143214" stroke-width="1.15" stroke-dasharray="8 5"/>
<path d="M1761.5,1159.5 L1815.4,1156.7 M1815.4,1156.7 A54.0,54.0 0 0 1 1764.3,1213.4" stroke="#0c1a0c" stroke-width="1.1" fill="none" stroke-dasharray="8 5"/>
<circle cx="1855.5" cy="1184.3" r="17.7" stroke="#0c1a0c" stroke-width="1.1" fill="none"/>
<use href="#ar" transform="translate(1877.0,1226.4) rotate(125.0)"/>
<path d="M1835,1024 l12,-1.6 l0.6,6 M1889.5,1011.5 l11.5,-1.5 l0.8,6 l-11.5,1.5 Z M1754,1159.5 l7,0 M1757,1215 l7,0" stroke="#111" stroke-width="1" fill="none"/>
<polygon points="1910.3,1036.7 1950.3,1034.0 1965.2,1239.2 1924.4,1242.0" fill="none" stroke="#0c1a0c" stroke-width="1.3" fill="none"/>
<line x1="1913.1" y1="1077.8" x2="1953.3" y2="1075.0" stroke="#0c1a0c" stroke-width="1.5" fill="none"/>
<line x1="1915.9" y1="1118.8" x2="1956.3" y2="1116.1" stroke="#0c1a0c" stroke-width="1.5" fill="none"/>
<line x1="1918.8" y1="1159.9" x2="1959.2" y2="1157.1" stroke="#0c1a0c" stroke-width="1.5" fill="none"/>
<line x1="1921.6" y1="1200.9" x2="1962.2" y2="1198.2" stroke="#0c1a0c" stroke-width="1.5" fill="none"/>
<line x1="1914.5" y1="1036.4" x2="1928.6" y2="1241.7" stroke="#0c1a0c" stroke-width="1.1" fill="none"/>
<line x1="1918.0" y1="1036.2" x2="1932.0" y2="1241.4" stroke="#0c1a0c" stroke-width="1.1" fill="none"/>
<circle cx="1972.8" cy="1052.5" r="17.7" stroke="#0c1a0c" stroke-width="1.1" fill="none"/>
<circle cx="1975.5" cy="1094.3" r="17.7" stroke="#0c1a0c" stroke-width="1.1" fill="none"/>
<circle cx="1981.0" cy="1176.0" r="17.7" stroke="#0c1a0c" stroke-width="1.1" fill="none"/>
<circle cx="1984.2" cy="1217.0" r="17.7" stroke="#0c1a0c" stroke-width="1.1" fill="none"/>
<use href="#cc" transform="translate(2008.5,1050.6) rotate(94.0) scale(0.980)"/>
<use href="#cc" transform="translate(2010.0,1092.0) rotate(94.0) scale(0.980)"/>
<use href="#cc" transform="translate(2016.0,1173.4) rotate(94.0) scale(0.980)"/>
<use href="#cc" transform="translate(2019.5,1215.0) rotate(94.0) scale(0.980)"/>
<use href="#lo" transform="translate(2114.0,1051.2) rotate(-62.5)"/>
<use href="#lo" transform="translate(2144.6,1178.7) rotate(-132.0)"/>
<circle cx="2158.7" cy="1077.0" r="17.7" stroke="#0c1a0c" stroke-width="1.1" fill="none"/>
<circle cx="2131.6" cy="1137.8" r="12.0" stroke="#0c1a0c" stroke-width="1.1" fill="none"/>
<polygon points="2178.6,1013.6 2220.2,1010.9 2236.5,1216.0 2195.0,1219.6" fill="none" stroke="#0c1a0c" stroke-width="1.3" fill="none"/>
<line x1="2181.9" y1="1054.8" x2="2223.5" y2="1051.9" stroke="#0c1a0c" stroke-width="1.5" fill="none"/>
<line x1="2185.2" y1="1096.0" x2="2226.7" y2="1092.9" stroke="#0c1a0c" stroke-width="1.5" fill="none"/>
<line x1="2188.4" y1="1137.2" x2="2230.0" y2="1134.0" stroke="#0c1a0c" stroke-width="1.5" fill="none"/>
<line x1="2191.7" y1="1178.4" x2="2233.2" y2="1175.0" stroke="#0c1a0c" stroke-width="1.5" fill="none"/>
<path d="M2181.5,1016.5 L2212.3,1014.5 L2228,1213.5 L2197.5,1216 M2184,1019.5 L2209.5,1017.8 L2225,1211 L2200,1213" stroke="#0c1a0c" stroke-width="1" fill="none"/>
<circle cx="2334.3" cy="1056.3" r="32.0" stroke="#0c1a0c" stroke-width="1.1" fill="none"/>
<use href="#dc" transform="translate(2382.8,1054.2) rotate(87.5) scale(0.950)"/>
<use href="#dc" transform="translate(2351.3,1101.7) rotate(159.5) scale(0.950)"/>
<use href="#dc" transform="translate(2296.3,1086.5) rotate(231.5) scale(0.950)"/>
<use href="#dc" transform="translate(2293.9,1029.5) rotate(303.5) scale(0.950)"/>
<use href="#dc" transform="translate(2347.3,1009.6) rotate(375.5) scale(0.950)"/>
<circle cx="2461.7" cy="1148.3" r="32.0" stroke="#0c1a0c" stroke-width="1.1" fill="none"/>
<use href="#dc" transform="translate(2458.3,1099.9) rotate(-4.0) scale(0.950)"/>
<use href="#dc" transform="translate(2506.7,1130.1) rotate(68.0) scale(0.950)"/>
<use href="#dc" transform="translate(2492.9,1185.5) rotate(140.0) scale(0.950)"/>
<use href="#dc" transform="translate(2436.0,1189.4) rotate(212.0) scale(0.950)"/>
<use href="#dc" transform="translate(2414.6,1136.6) rotate(284.0) scale(0.950)"/>
<use href="#ar" transform="translate(2308.0,892.5) rotate(-8.0)"/>
<use href="#ar" transform="translate(2384.0,929.6) rotate(38.0)"/>
<circle cx="2351.6" cy="897.3" r="11.4" stroke="#0c1a0c" stroke-width="1.1" fill="none"/>
<circle cx="2661.5" cy="1102.5" r="12.0" stroke="#0c1a0c" stroke-width="1.1" fill="none"/>
<use href="#lo" transform="translate(2672.0,1148.0) rotate(99.0)"/>
<line x1="2740.3" y1="1123.0" x2="2819.0" y2="1177.4" stroke="#111" stroke-width="1"/>
<path d="M2489,1052 L2519.5,1052 L2519.5,1062 Q2519,1068 2514,1073.4 L2495,1073.4 Q2489.5,1068 2489,1062 Z" fill="#000"/>
<path d="M2518.5,1056 L2524.8,1056 L2524.8,1061.5 Q2524.5,1065 2518.5,1066.3" stroke="#000" stroke-width="3.2" fill="none"/>
<rect x="2489.0" y="1076.0" width="30.5" height="3.7" fill="#000" />
<path d="M2505.5,1033.5 l-3.2,4.2 l5.2,2.6 l-2.6,4 l0.6,5.4" stroke="#000" stroke-width="3.2" fill="none" stroke-linejoin="round"/>
<path d="M2502.8,966.9 L2484.7,994.3 M2531.9,986.2 L2513.8,1013.5 M2561.2,1005.5 L2543.1,1032.9" stroke="#12343b" stroke-width="1" fill="none"/>
<line x1="2590.4" y1="1024.8" x2="2572.3" y2="1052.2" stroke="#12343b" stroke-width="1.8"/>
<line x1="2464.8" y1="961.7" x2="2581.2" y2="1038.7" stroke="#12343b" stroke-width="1" stroke-dasharray="11 4 2 4"/>
<path d="M2503.8,968.2 L2506.3,993.2 L2511.7,986.0 L2513.9,1013.5 M2562.2,1006.8 L2564.7,1031.8 L2570.1,1024.6 L2572.3,1052.1 M2573.8,1053.5 L2598.8,1044.8 L2595.4,1053.3 L2619.7,1045.4" stroke="#12343b" stroke-width="1.2" fill="none" stroke-linejoin="miter"/>
<polygon points="2534.5,990.3 2554.9,1003.8 2539.5,1027.1 2519.1,1013.7" fill="#aee9ea" stroke="#12343b" stroke-width="1.3" stroke-linejoin="round"/>
<polygon points="2534.7,994.6 2550.9,1005.3 2538.7,1023.8 2522.5,1013.1" fill="none" stroke="#12343b" stroke-width="1.1" stroke-linejoin="round"/>
<circle cx="2534.9" cy="1010.0" r="1.5" stroke="#12343b" stroke-width="1" fill="none"/>
<path d="M2537.2,999.2 L2545.5,1004.8 M2541.3,1002.0 L2538.0,1007.0" stroke="#12343b" stroke-width="1.4" fill="none"/>
<text transform="translate(2489.0,995.1) rotate(33.5)" font-size="8.5" font-style="italic" style="fill:#12343b">apk</text>
<text transform="translate(2548.0,1033.9) rotate(33.5)" font-size="8.5" font-style="italic" style="fill:#12343b">apk</text>
<text transform="translate(2597.7,1067.3) rotate(33.5)" font-size="8.5" font-style="italic" style="fill:#12343b">jk</text>
<use href="#wc" transform="translate(1988.7,670.1) rotate(33.9) scale(0.980)"/>
<use href="#wc" transform="translate(2075.1,732.6) rotate(33.9) scale(0.980)"/>
<use href="#wc" transform="translate(2187.7,781.1) rotate(33.9) scale(0.980)"/>
<use href="#sk" transform="translate(2058.7,682.5) rotate(123.9)"/>
<use href="#sk" transform="translate(2155.0,747.1) rotate(123.9)"/>
<use href="#sk" transform="translate(2173.8,818.8) rotate(213.9)"/>
<use href="#sk" transform="translate(1917.0,829.0)"/>
<use href="#sk" transform="translate(2045.7,823.8)"/>
<use href="#sk" transform="translate(1880.3,815.2) scale(0.980)"/>
<circle cx="1864.1" cy="814.8" r="4.0" stroke="#0c1a0c" stroke-width="1.1" fill="none"/>
<path d="M2000,718.8 L1938.2,802.7 L1939.4,852.8 M2082.4,772.3 L2067.5,793.4 L2069.3,846.2" stroke="#0c1a0c" stroke-width="1" fill="none"/>
<path d="M2043.1,739.8 L2019.8,771.3 A39.2,39.2 0 0 1 2003.5,718.8" stroke="#0c1a0c" stroke-width="1" fill="none"/>
<line x1="2005.5" y1="717.8" x2="2041.1" y2="736.3" stroke="#0c1a0c" stroke-width="0.9"/>
<line x1="2004.0" y1="720.8" x2="2040.1" y2="739.3" stroke="#0c1a0c" stroke-width="0.9"/>
<path d="M2138.9,801.5 L2115.9,834.4 A40.1,40.1 0 0 1 2100.5,781.5" stroke="#0c1a0c" stroke-width="1" fill="none"/>
<line x1="2102.5" y1="780.5" x2="2136.9" y2="798.0" stroke="#0c1a0c" stroke-width="0.9"/>
<line x1="2101.0" y1="783.5" x2="2135.9" y2="801.0" stroke="#0c1a0c" stroke-width="0.9"/>
<path d="M2021.7,875.5 L2022.5,923.0 A47.5,47.5 0 0 1 1972.3,878.2" stroke="#0c1a0c" stroke-width="1" fill="none"/>
<path d="M2127.7,870.0 L2128.5,917.7 A47.7,47.7 0 0 1 2078.3,871.4" stroke="#0c1a0c" stroke-width="1" fill="none"/>
<path d="M2249.2,864.6 L2250.0,910.9 A46.3,46.3 0 0 1 2200.3,866.0" stroke="#0c1a0c" stroke-width="1" fill="none"/>
<path d="M1786.3,819.4 L1747.5,790.8 A49,49 0 0 1 1814.4,778.2" stroke="#0c1a0c" stroke-width="1" fill="none"/>
<text x="1826.0" y="839.5" font-size="25.0" text-anchor="middle" textLength="40.0" lengthAdjust="spacingAndGlyphs" style="fill:#111">CC</text>
<path d="M761.3,424.6 L761.3,464.0 M761.3,529.8 L761.3,574.2 M761.3,640.5 L761.3,684.3 M761.3,751.0 L761.3,790.4 M761.3,497.4 l0,1.3 M761.3,607.4 l0,1.3 M761.3,717.5 l0,1.3 M761.3,790.4 L731.7,790.4 M666.1,790.4 L621.7,790.4 M556.0,790.4 L511.6,790.4 M445.9,790.4 L400.8,790.4 M335.8,790.4 L291.4,790.4 M225.7,790.4 L195.1,790.4 M698.3,790.4 l1.3,0 M587.5,790.4 l1.3,0 M477.5,790.4 l1.3,0 M368.0,790.4 l1.3,0 M257.9,790.4 l1.3,0 M195.1,790.4 L195.1,810.1 L173.1,810.1 M140.8,810.1 l-1.3,0 M107.4,810.1 L84.4,810.1 M84.4,810.1 L84.1,830.0 M82.7,928.5 L82.0,974.7 M81.1,1040.0 L80.4,1086.2 M79.4,1151.0 L78.8,1194.5 M77.9,1261.0 L76.5,1354.0 M83.1,898.0 l0,1.3 M81.5,1006.7 l0,1.3 M79.9,1117.0 l0,1.3 M78.3,1227.4 l0,1.3" stroke="#222" stroke-width="1" fill="none"/>
<path d="M771.2,498.6 Q760,605 771.2,712.2" stroke="#222" stroke-width="0.8" fill="none"/>
<path d="M1748.0,426.8 L2932.9,1221.9" stroke="#222" stroke-width="1" fill="none" stroke-dasharray="76.5 32 1.2 32 44.8 32 1.2 32 44.8 32 1.2 32 44.8 32 1.2 32 44.8 32 1.2 32 44.8 32 1.2 32 44.8 32 1.2 32 44.8 32 1.2 32 44.8 32 1.2 32 44.8 32 1.2 32 44.8 32 1.2 32 44.8 32 1.2 32 60 400"/>
<circle cx="1869.9" cy="426.9" r="24.5" stroke="#222" stroke-width="1.2" fill="none"/>
<path d="M1844.7,463.2 L1900.4,383.3 M1876.7,387.4 L1900.4,383.3 L1904.5,407.6 M1833.8,402.2 L1905.6,452.3" stroke="#222" stroke-width="1.2" fill="none"/>
<path d="M1912.1,423.4 L1927.9,401.1 L1930.1,434.3 L1945.9,411.4" stroke="#1a1a1a" stroke-width="3" fill="none" stroke-linejoin="miter"/>
<path d="M2233.7,1424.9 L2820.9,1424.9 M2233.7,1402.5 L2233.7,1447.3 M2820.9,1402.5 L2820.9,1447.3 M2527.1,1410 L2527.1,1439.4 M2292.4,1416.2 L2292.4,1433.3 M2351.1,1416.2 L2351.1,1433.3 M2409.9,1416.2 L2409.9,1433.3 M2468.6,1416.2 L2468.6,1433.3 M2586.0,1416.2 L2586.0,1433.3 M2644.7,1416.2 L2644.7,1433.3 M2703.5,1416.2 L2703.5,1433.3 M2762.2,1416.2 L2762.2,1433.3" stroke="#444" stroke-width="1.3" fill="none"/>
<text x="2209.3" y="1397.0" font-size="40.5" text-anchor="start" textLength="59.6" lengthAdjust="spacingAndGlyphs" >0m</text>
<text x="2504.2" y="1397.0" font-size="40.5" text-anchor="start" textLength="58.1" lengthAdjust="spacingAndGlyphs" >5m</text>
<text x="2780.9" y="1397.0" font-size="40.5" text-anchor="start" textLength="75.5" lengthAdjust="spacingAndGlyphs" >10m</text>
<text x="237.2" y="1429.5" font-size="41.0" text-anchor="start" textLength="335.4" lengthAdjust="spacingAndGlyphs" >Kaisaniemenkatu</text>
<text x="778.0" y="1430.5" font-size="30.3" text-anchor="start" textLength="288.3" lengthAdjust="spacingAndGlyphs" >Entrance on 1. floor</text>
<text x="1638.0" y="1430.5" font-size="30.3" text-anchor="start" textLength="288.3" lengthAdjust="spacingAndGlyphs" >Entrance on 1. floor</text>
<polygon points="913.0,1370.3 929.5,1354.0 946.0,1370.3 946.0,1374.3 913.0,1374.3" fill="#000" />
<rect x="913.0" y="1376.6" width="33.0" height="4.2" fill="#000" />
<polygon points="1773.0,1370.3 1789.5,1354.0 1806.0,1370.3 1806.0,1374.3 1773.0,1374.3" fill="#000" />
<rect x="1773.0" y="1376.6" width="33.0" height="4.2" fill="#000" />
<rect x="380.0" y="86.0" width="50.3" height="21.3" fill="#b5d6b2" />
<rect x="380.0" y="138.0" width="50.3" height="21.3" fill="#8cc6ab" />
<rect x="380.0" y="189.4" width="50.3" height="21.3" fill="#93d58b" />
<rect x="732.9" y="86.0" width="50.3" height="21.3" fill="#aee9ea" />
<rect x="732.9" y="138.0" width="50.3" height="21.3" fill="#e0e1e3" />
<rect x="732.9" y="189.4" width="50.3" height="21.3" fill="#a9a9ab" />
<text x="450.6" y="105.0" font-size="30.5" text-anchor="start" textLength="266.7" lengthAdjust="spacingAndGlyphs" >Open-plan offices</text>
<text x="450.6" y="156.8" font-size="30.5" text-anchor="start" textLength="189.5" lengthAdjust="spacingAndGlyphs" >Office rooms</text>
<text x="450.6" y="208.4" font-size="30.5" text-anchor="start" textLength="221.5" lengthAdjust="spacingAndGlyphs" >Meeting rooms</text>
<text x="803.0" y="105.0" font-size="30.5" text-anchor="start" textLength="184.5" lengthAdjust="spacingAndGlyphs" >Wet facilities</text>
<text x="803.0" y="156.8" font-size="30.5" text-anchor="start" textLength="232.0" lengthAdjust="spacingAndGlyphs" >Common areas</text>
<text x="803.0" y="208.4" font-size="30.5" text-anchor="start" textLength="197.5" lengthAdjust="spacingAndGlyphs" >Other spaces</text>
<line x1="1075.7" y1="87.0" x2="1075.7" y2="210.0" stroke="#555" stroke-width="1.3"/>
<line x1="1281.5" y1="87.0" x2="1281.5" y2="210.0" stroke="#555" stroke-width="1.3"/>
<line x1="1487.2" y1="87.0" x2="1487.2" y2="210.0" stroke="#555" stroke-width="1.3"/>
<rect x="1104.0" y="92.7" width="20.6" height="36.3" fill="none" stroke="#222" stroke-width="1.1"/>
<circle cx="1138.6" cy="111.0" r="7.7" stroke="#222" stroke-width="1.1" fill="none"/>
<text x="1099.0" y="177.3" font-size="30.5" text-anchor="start" textLength="88.5" lengthAdjust="spacingAndGlyphs" >26 ppl</text>
<text x="1311.7" y="177.3" font-size="30.5" text-anchor="start" textLength="86.0" lengthAdjust="spacingAndGlyphs" >12 ppl</text>
<rect x="1316.8" y="104.7" width="48.5" height="21.3" fill="none" stroke="#222" stroke-width="1.1"/>
<circle cx="1326.0" cy="93.0" r="4.7" stroke="#222" stroke-width="1.1" fill="none"/>
<circle cx="1326.0" cy="137.7" r="4.7" stroke="#222" stroke-width="1.1" fill="none"/>
<circle cx="1341.2" cy="93.0" r="4.7" stroke="#222" stroke-width="1.1" fill="none"/>
<circle cx="1341.2" cy="137.7" r="4.7" stroke="#222" stroke-width="1.1" fill="none"/>
<circle cx="1356.4" cy="93.0" r="4.7" stroke="#222" stroke-width="1.1" fill="none"/>
<circle cx="1356.4" cy="137.7" r="4.7" stroke="#222" stroke-width="1.1" fill="none"/>
<line x1="1520.0" y1="114.8" x2="1587.0" y2="114.8" stroke="#333" stroke-width="1.3" stroke-dasharray="4 5.1"/>
<text x="1603.0" y="123.4" font-size="30.5" text-anchor="start" textLength="333.7" lengthAdjust="spacingAndGlyphs" >Possible new structures</text>
<text x="378.8" y="306.0" font-size="30.5" text-anchor="start" textLength="281.0" lengthAdjust="spacingAndGlyphs" >Layout is indicative</text>
<text x="378.8" y="343.9" font-size="30.5" text-anchor="start" textLength="327.0" lengthAdjust="spacingAndGlyphs" >and can be modified.</text>
</svg></body></html>
